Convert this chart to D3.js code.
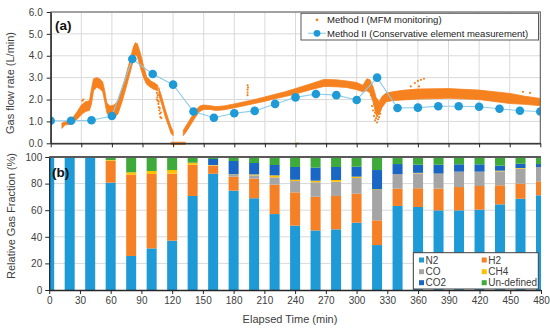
<!DOCTYPE html>
<html><head><meta charset="utf-8">
<script src="https://cdn.jsdelivr.net/npm/d3@7"></script>
<style>
body{margin:0;background:#fff;}
svg{display:block;font-family:"Liberation Sans",Arial,sans-serif;}
</style></head><body>
<svg id="c" width="550" height="329"></svg>
<script>
// ---------- data ----------
const timeTicks = [0,30,60,90,120,150,180,210,240,270,300,330,360,390,420,450,480];
const flowTicks = [0,1,2,3,4,5,6];
const fracTicks = [0,20,40,60,80,100];
const sampleTimes = [0,20,40,60,80,100,120,140,160,180,200,220,240,260,280,300,320,340,360,380,400,420,440,460,480];
// Method II (conservative element measurement), L/min
const methodII = [1.03,1.03,1.05,1.25,3.85,3.17,2.68,1.45,1.17,1.37,1.48,1.80,2.10,2.25,2.20,1.98,3.00,1.61,1.63,1.69,1.69,1.67,1.58,1.49,1.45];
// Method I (MFM monitoring): dense record drawn as its band (low/high envelope); null = gap
const mfmTime = [11,14,18,22,26,30,34,38,40,42,45,48,51,53,55,58,62,66,70,74,78,81,83,85,88,91,94,98,102,105,
  null,
  106,109,112,115,118,120,
  null,
  118,125,132,
  null,
  130,134,138,142,146,150,156,162,170,180,190,200,210,220,230,240,255,268,280,290,300,306,310,313,316,319,322,325,329,335,345,360,390,420,450,465,480];
const mfmLow = [0.68,0.84,0.86,0.95,1.10,1.30,1.45,1.50,1.80,2.40,2.55,2.50,2.35,1.90,1.40,1.15,1.15,1.35,1.90,2.55,3.25,3.80,4.05,3.95,3.45,3.00,2.70,2.55,2.45,2.40,
  null,
  2.20,1.75,1.25,0.85,0.45,0.35,
  null,
  -0.05,-0.05,-0.05,
  null,
  0.35,0.60,0.90,1.20,1.45,1.55,1.55,1.50,1.53,1.62,1.72,1.82,1.92,2.04,2.14,2.25,2.45,2.60,2.58,2.55,2.45,2.35,2.40,2.30,1.90,1.30,1.30,1.65,1.90,1.95,1.98,2.02,2.06,2.00,1.82,1.78,1.72];
const mfmHigh = [0.93,0.98,1.02,1.20,1.45,1.75,1.90,1.95,2.50,2.95,3.00,2.95,2.80,2.40,1.85,1.70,1.75,1.95,2.50,3.15,3.85,4.40,4.60,4.55,4.10,3.55,3.05,2.85,2.75,2.65,
  null,
  2.55,2.10,1.60,1.15,0.75,0.55,
  null,
  0.05,0.05,0.05,
  null,
  0.60,0.90,1.20,1.50,1.70,1.75,1.72,1.68,1.71,1.80,1.90,2.00,2.12,2.24,2.36,2.50,2.72,2.92,2.90,2.85,2.78,2.65,2.95,2.90,2.60,2.10,1.90,2.15,2.30,2.35,2.42,2.48,2.50,2.43,2.28,2.15,2.05];
// Method I isolated scattered readings
const mfmOutTime = [31,32,104,104.5,105,105.5,106,106.5,107,107.5,105,106,107,108,108.5,104,193,193,193,193.5,193,242,315,316,317,318,319,320,321,322,317,319,321,323,318,320,312,314,353,357,360,363,366,361,463,470];
const mfmOutVal  = [1.95,2.00,2.30,2.10,1.95,1.80,1.65,1.50,1.35,1.20,2.20,1.90,1.60,1.40,1.15,2.00,2.20,2.32,2.45,2.55,2.65,0.00,1.70,1.50,1.25,1.05,1.15,0.95,1.10,1.20,1.80,1.60,1.45,1.35,1.40,1.25,2.40,2.20,2.60,2.75,2.85,2.90,2.95,2.60,2.35,2.30];
// Relative gas fractions (%) at sampling times
const gasNames = ["N2","H2","CO","CH4","CO2","Un-defined"];
const gasColors = ["#1e9ad6","#f58025","#a5a5a5","#ffc000","#1a66c4","#3daa3a"];
const fracN2  = [99.5,100,100,80.7,25.6,31.3,37.1,70.7,87.4,74.7,69.0,57.1,48.4,44.8,45.6,50.6,33.8,63.2,62.4,59.9,59.9,60.4,64.4,68.6,71.2];
const fracH2  = [0.5,0,0,16.5,61.1,55.9,50.4,23.5,6.0,10.5,14.7,22.1,25.0,25.3,25.1,21.8,18.6,13.0,14.1,16.3,17.5,17.8,14.3,11.3,10.5];
const fracCO  = [0,0,0,0,0,0,0,0,0.3,1.5,2.5,5.5,8.5,10.9,10.7,11.8,22.8,11.0,11.2,11.0,11.6,10.8,10.5,11.3,10.8];
const fracCH4 = [0,0,0,0.5,1.8,2.3,2.7,1.5,0.3,0.3,0.7,1.5,1.0,1.2,1.3,1.0,0.5,0,0.4,0.3,0,0,0.5,0.5,0];
const fracCO2 = [0,0,0,0,0,0,0,0,4.5,10.0,8.6,7.8,9.6,9.8,9.8,7.5,14.5,7.5,6.1,6.7,5.5,5.5,3.8,3.3,2.2];
const fracUnd = [0,0,0,2.3,11.5,10.5,9.8,4.3,1.5,3.0,4.5,6.0,7.5,8.0,7.5,7.3,9.8,5.3,5.8,5.8,5.5,5.5,6.5,5.0,5.3];

// ---------- drawing ----------
const svg = d3.select("#c");
const ORANGE = "#f5821f", BLUE = "#1e9ad6", LBLUE = "#8ccbea";
const GRID = "#d9d9d9", AX = "#404040", TXT = "#404040";

// panel (a)
const xa = d3.scaleLinear().domain([0,480]).range([50.7,540.3]);
const ya = d3.scaleLinear().domain([0,6]).range([143.3,12]);
const ga = svg.append("g");
ga.append("g").selectAll("line").data(flowTicks.slice(1)).join("line")
  .attr("x1",xa(0)).attr("x2",xa(480)).attr("y1",d=>ya(d)).attr("y2",d=>ya(d))
  .attr("stroke",GRID).attr("stroke-width",1);
ga.append("g").selectAll("line").data(timeTicks.slice(1)).join("line")
  .attr("x1",d=>xa(d)).attr("x2",d=>xa(d)).attr("y1",ya(0)).attr("y2",ya(6))
  .attr("stroke",GRID).attr("stroke-width",1);

const clipA = svg.append("clipPath").attr("id","clipA").append("rect")
  .attr("x",xa(0)).attr("y",ya(6)).attr("width",xa(480)-xa(0)).attr("height",ya(0)-ya(6)+3);

const band = mfmTime.map((t,i)=>({t,lo:mfmLow[i],hi:mfmHigh[i]}));
ga.append("path").datum(band)
  .attr("clip-path","url(#clipA)")
  .attr("d",d3.area().defined(d=>d.t!==null&&d.lo!==null)
    .x(d=>xa(d.t)).y0(d=>ya(d.lo)).y1(d=>ya(d.hi)).curve(d3.curveLinear))
  .attr("fill",ORANGE).attr("stroke",ORANGE).attr("stroke-width",0.8).attr("stroke-linejoin","round");
ga.append("g").selectAll("circle").data(mfmOutTime.map((t,i)=>({t,v:mfmOutVal[i]}))).join("circle")
  .attr("cx",d=>xa(d.t)).attr("cy",d=>ya(d.v)).attr("r",1.1).attr("fill",ORANGE);

const m2 = sampleTimes.map((t,i)=>({t,v:methodII[i]}));
ga.append("path").datum(m2)
  .attr("d",d3.line().x(d=>xa(d.t)).y(d=>ya(d.v)))
  .attr("fill","none").attr("stroke",LBLUE).attr("stroke-width",1.1);
ga.append("g").selectAll("circle").data(m2).join("circle")
  .attr("clip-path","url(#clipA)")
  .attr("cx",d=>xa(d.t)).attr("cy",d=>ya(d.v)).attr("r",4.3).attr("fill",BLUE);

// frame (a)
ga.append("rect").attr("x",xa(0)).attr("y",ya(6)).attr("width",xa(480)-xa(0)).attr("height",ya(0)-ya(6))
  .attr("fill","none").attr("stroke","#595959").attr("stroke-width",1);
const axA = ga.append("g").attr("transform",`translate(${xa(0)},0)`)
  .call(d3.axisLeft(ya).tickValues(flowTicks).tickFormat(d3.format(".1f")).tickSize(4).tickSizeOuter(0).tickPadding(4));
const axAx = ga.append("g").attr("transform",`translate(0,${ya(0)})`)
  .call(d3.axisBottom(xa).tickValues(timeTicks).tickFormat("").tickSize(4).tickSizeOuter(0));
[axA,axAx].forEach(a=>{a.select(".domain").attr("stroke","#262626").attr("stroke-width",1.3);
  a.selectAll(".tick line").attr("stroke","#262626");
  a.selectAll("text").attr("fill",TXT).attr("font-size","10px").attr("font-family","Liberation Sans, Arial, sans-serif");});

ga.append("text").attr("x",55).attr("y",29.5).text("(a)").attr("font-size","13.5px").attr("font-weight","bold").attr("fill","#111");
ga.append("text").attr("transform","translate(14,83) rotate(-90)").attr("text-anchor","middle")
  .attr("font-size","11px").attr("fill",TXT).text("Gas flow rate (L/min)");

// legend (a)
const la = ga.append("g");
la.append("rect").attr("x",301).attr("y",13.3).attr("width",237.5).attr("height",26.7)
  .attr("fill","#fff").attr("stroke","#595959").attr("stroke-width",1);
la.append("circle").attr("cx",317).attr("cy",19.8).attr("r",1.4).attr("fill",ORANGE);
la.append("line").attr("x1",308).attr("x2",326).attr("y1",33.3).attr("y2",33.3).attr("stroke",LBLUE).attr("stroke-width",1.1);
la.append("circle").attr("cx",317).attr("cy",33.3).attr("r",3.4).attr("fill",BLUE);
la.append("text").attr("x",327).attr("y",23.2).attr("font-size","9.5px").attr("fill","#222").text("Method I (MFM monitoring)");
la.append("text").attr("x",327).attr("y",36.7).attr("font-size","9.5px").attr("fill","#222").text("Method II (Conservative element measurement)");

// panel (b)
const xb = d3.scaleLinear().domain([0,480]).range([49.2,541]);
const yb = d3.scaleLinear().domain([0,100]).range([290,157]);
const gb = svg.append("g");
gb.append("g").selectAll("line").data(fracTicks.slice(1,5)).join("line")
  .attr("x1",xb(0)).attr("x2",xb(480)).attr("y1",d=>yb(d)).attr("y2",d=>yb(d))
  .attr("stroke",GRID).attr("stroke-width",1);

svg.append("clipPath").attr("id","clipB").append("rect")
  .attr("x",xb(0)).attr("y",yb(100)).attr("width",xb(480)-xb(0)).attr("height",yb(0)-yb(100));

const fracSeries = [fracN2,fracH2,fracCO,fracCH4,fracCO2,fracUnd];
const rows = sampleTimes.map((t,i)=>{const r={t}; gasNames.forEach((g,k)=>r[g]=fracSeries[k][i]); return r;});
const stacked = d3.stack().keys(gasNames)(rows);
const barW = 10;
gb.append("g").attr("clip-path","url(#clipB)").selectAll("g").data(stacked).join("g")
  .attr("fill",(d,i)=>gasColors[i])
  .selectAll("rect").data(d=>d).join("rect")
  .attr("x",d=>xb(d.data.t)-barW/2).attr("width",barW)
  .attr("y",d=>yb(d[1])).attr("height",d=>Math.max(0,yb(d[0])-yb(d[1])));

gb.append("line").attr("x1",xb(0)).attr("x2",xb(480)).attr("y1",yb(100)).attr("y2",yb(100))
  .attr("stroke","#595959").attr("stroke-width",2);
const axB = gb.append("g").attr("transform",`translate(${xb(0)},0)`)
  .call(d3.axisLeft(yb).tickValues(fracTicks).tickSize(4).tickSizeOuter(0).tickPadding(3));
const axBx = gb.append("g").attr("transform",`translate(0,${yb(0)})`)
  .call(d3.axisBottom(xb).tickValues(timeTicks).tickSize(4).tickSizeOuter(0).tickPadding(3));
[axB,axBx].forEach(a=>{a.select(".domain").attr("stroke","#262626").attr("stroke-width",1.3);
  a.selectAll(".tick line").attr("stroke","#262626");
  a.selectAll("text").attr("fill",TXT).attr("font-size","10px").attr("font-family","Liberation Sans, Arial, sans-serif");});

gb.append("text").attr("x",52).attr("y",177).text("(b)").attr("font-size","13.5px").attr("font-weight","bold").attr("fill","#111");
gb.append("text").attr("transform","translate(15,216) rotate(-90)").attr("text-anchor","middle")
  .attr("font-size","11px").attr("fill",TXT).text("Relative Gas Fraction (%)");
gb.append("text").attr("x",290).attr("y",323).attr("text-anchor","middle")
  .attr("font-size","11px").attr("fill",TXT).text("Elapsed Time (min)");

// legend (b)
const lb = gb.append("g");
lb.append("rect").attr("x",413.3).attr("y",252.7).attr("width",125).attr("height",36.3)
  .attr("fill","#fff").attr("stroke","#404040").attr("stroke-width",1);
const legPos = [[419,260],[481.7,260],[419,271.7],[481.7,271.7],[419,282.7],[481.7,282.7]];
gasNames.forEach((g,i)=>{
  const [x,y]=legPos[i];
  lb.append("rect").attr("x",x).attr("y",y-2.5).attr("width",5).attr("height",5).attr("fill",gasColors[i]);
  lb.append("text").attr("x",x+6.5).attr("y",y+3.6).attr("font-size","10px").attr("fill",TXT).text(g);
});
</script></body></html>
